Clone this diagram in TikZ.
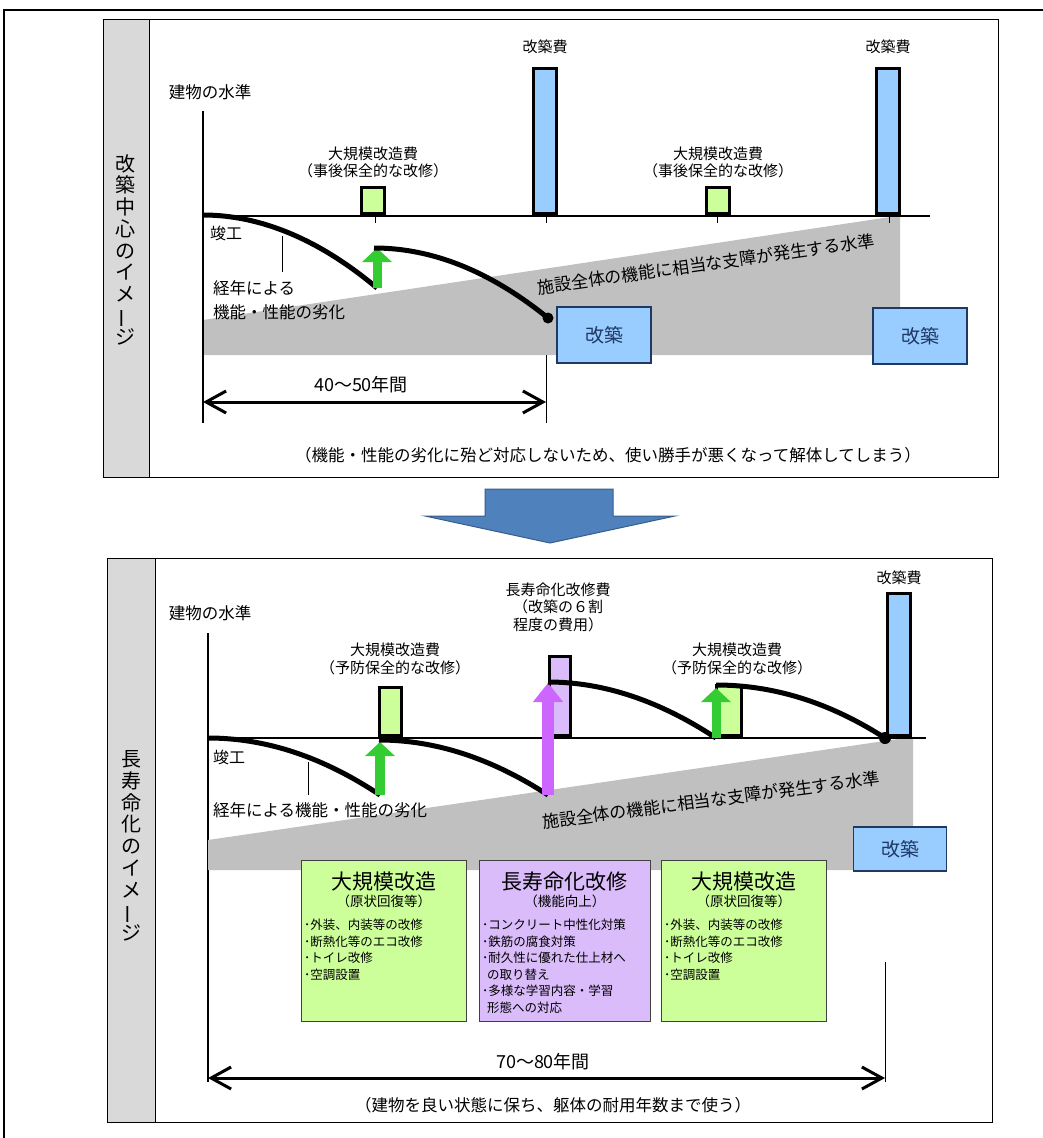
\documentclass[tikz,border=0pt]{standalone}
\usepackage{fontspec}
\setmainfont{Noto Sans CJK JP}
\usepackage{tikz}
\usetikzlibrary{arrows.meta, calc, positioning}
\definecolor{panelgray}{RGB}{217,217,217}
\definecolor{zonegray}{RGB}{192,192,192}
\definecolor{barblue}{RGB}{153,204,255}
\definecolor{fixgreen}{RGB}{204,255,153}
\definecolor{upgreen}{RGB}{51,204,51}
\definecolor{lifepurple}{RGB}{218,188,250}
\definecolor{uppurple}{RGB}{204,102,255}
\definecolor{bigblue}{RGB}{79,129,189}
\definecolor{bigedge}{RGB}{56,93,138}
\definecolor{navy}{RGB}{31,56,100}
\definecolor{darkline}{RGB}{64,64,64}
\newcommand{\sz}[2]{\fontsize{#1}{#2}\selectfont}
\tikzstyle{lbl} = [inner sep=0pt, align=center, font=\sz{15}{17.5}]
\tikzstyle{levelaxis} = [line width=1.5pt]
\tikzstyle{leader} = [line width=0.8pt]
\tikzstyle{decay} = [line width=5pt]
\tikzstyle{costbar} = [draw, line width=3pt, inner sep=0pt,
	minimum width=23pt, anchor=south]
\tikzstyle{lift} = [line width=9pt, -{Triangle[length=14pt, width=29pt]}]
\tikzstyle{rebuild} = [draw=navy, line width=1.2pt, fill=barblue, text=navy,
	minimum width=94pt, minimum height=56pt, font=\sz{19}{20}]
\tikzstyle{yearspan} = [line width=3pt,
	{Straight Barb[length=20pt, width=22pt]}-{Straight Barb[length=20pt, width=22pt]}]
\tikzstyle{sidetitle} = [inner sep=0pt, align=center, font=\sz{20}{21.7}]
\tikzstyle{work} = [draw=darkline, line width=0.9pt, minimum height=161pt,
	inner sep=0pt, anchor=north west]
\newcommand{\workbox}[7]{\node (#1) [work, fill=#2, minimum width=#4] at (#3,860) {};
	\node [inner sep=0pt, font=\sz{21}{22}] at ($(#1.north)+(0,22)$) {#5};
	\node [inner sep=0pt, font=\sz{13.5}{15}] at ($(#1.north)+(0,41)$) {#6};
	\node [inner sep=0pt, font=\sz{12.5}{16.5}, align=left, anchor=north west]
		at ($(#1.north west)+(3,59)$) {#7}}

\begin{document}
\begin{tikzpicture}[x=1pt, y=-1pt]
	\useasboundingbox (0,0) rectangle (1043,1138);
	\clip (0,0) rectangle (1043,1138);
	\draw[line width=2.5pt] (4,10) rectangle (1100,1200);
	
	% upper panel
	\draw[fill=panelgray, line width=1pt] (103,19) rectangle (149,477);
	\draw[line width=1pt] (103,19) rectangle (998,477);
	\node (sideA) [sidetitle] at (125,250) {改\\築\\中\\心\\の\\イ\\メ\\\rotatebox[origin=c]{90}{ー}\\ジ};
	\node (levelA) [lbl, font=\sz{16.5}{18}] at (210,92) {建物の水準};
	\fill[zonegray] (203,320) -- (890,217) -- (900,217) -- (900,355) -- (203,355) -- cycle;
	\node (zoneA) [lbl, font=\sz{17}{18}, rotate=8] at (706,264) {施設全体の機能に相当な支障が発生する水準};
	\draw[levelaxis] (203,111) -- (203,423);
	\draw[levelaxis] (203,216) -- (930,216);
	\foreach \x in {375,546,717,889}
		\draw[leader] (\x,211) -- (\x,223);
	\draw[leader] (546,355) -- (546,423);
	
	\node (costA1) [costbar, fill=barblue, minimum height=145pt] at (545,214.5) {};
	\node (costA2) [costbar, fill=barblue, minimum height=145pt] at (888,214.5) {};
	\node [lbl, above=13pt of costA1] {改築費};
	\node [lbl, above=13pt of costA2] {改築費};
	\node (fixA1) [costbar, fill=fixgreen, minimum height=26pt] at (373,214.5) {};
	\node (fixA2) [costbar, fill=fixgreen, minimum height=26pt] at (718,214.5) {};
	\node [lbl, above=7pt of fixA1] {大規模改造費\\（事後保全的な改修）};
	\node [lbl, above=7pt of fixA2] {大規模改造費\\（事後保全的な改修）};
	
	\draw[decay] (203,215) .. controls (261,215) and (320,240) .. (377,288) coordinate (dropA1);
	\coordinate (riseA1) at (377,248);
	\draw[lift, upgreen] (dropA1) -- (riseA1);
	\draw[decay] (374,248) .. controls (432,248) and (490,271) .. (548,318) coordinate (endA);
	\fill (endA) circle (5.5);
	
	\node (doneA) [lbl, font=\sz{16}{18}, anchor=west] at (210,233) {竣工};
	\draw[leader] (282,236) -- (282,272);
	\node (ageA) [lbl, font=\sz{16.5}{24}, align=left, anchor=west] at (213,300) {経年による\\機能・性能の劣化};
	\node (rebA1) [rebuild] at (604,335) {改築};
	\node (rebA2) [rebuild] at (920,336) {改築};
	
	\draw[yearspan] (203,402) -- (546,402);
	\node [lbl, font=\sz{18}{20}] at (361,385) {40〜50年間};
	\node [lbl, font=\sz{16.5}{18}] at (608,455) {（機能・性能の劣化に殆ど対応しないため、使い勝手が悪くなって解体してしまう）};
	
	% big arrow
	\draw[fill=bigblue, draw=bigedge, line width=1pt] (485,489) -- (613,489) -- (613,516) -- (675,516)
		-- (550,543) -- (425,516) -- (485,516) -- cycle;
	
	% lower panel
	\draw[fill=panelgray, line width=1pt] (107,558) rectangle (155,1122);
	\draw[line width=1pt] (107,558) rectangle (992,1122);
	\node (sideB) [sidetitle] at (131,846) {長\\寿\\命\\化\\の\\イ\\メ\\\rotatebox[origin=c]{90}{ー}\\ジ};
	\node (levelB) [lbl, font=\sz{16.5}{18}] at (210,613) {建物の水準};
	\draw[levelaxis] (208,633) -- (208,1082);
	\fill[zonegray] (208,840) -- (905,738) -- (913,738) -- (913,870) -- (208,870) -- cycle;
	\node (zoneB) [lbl, font=\sz{17}{18}, rotate=7.5] at (711,800) {施設全体の機能に相当な支障が発生する水準};
	\draw[levelaxis] (208,738) -- (926,738);
	
	\node (costB) [costbar, fill=barblue, minimum height=142pt] at (899,736.5) {};
	\node [lbl, above=7pt of costB] {改築費};
	\node (fixB1) [costbar, fill=fixgreen, minimum width=22pt, minimum height=48pt] at (390.5,736.5) {};
	\node (lifeB) [costbar, fill=lifepurple, minimum width=21pt, minimum height=79pt] at (560,736.5) {};
	\node (fixB2) [costbar, fill=fixgreen, minimum width=25pt, minimum height=50pt] at (729,736.5) {};
	\node [lbl] at (395,659) {大規模改造費\\（予防保全的な改修）};
	\node [lbl] at (558,607) {長寿命化改修費\\（改築の６割\\程度の費用）};
	\node [lbl] at (737,659) {大規模改造費\\（予防保全的な改修）};
	
	\draw[decay] (208,738) .. controls (266,738) and (323,757) .. (380,795) coordinate (dropB1);
	\draw[lift, upgreen, line width=10pt] (dropB1) -- (380,742);
	\draw[decay] (379,740) .. controls (435,740) and (491,758) .. (548,795) coordinate (dropB2);
	\draw[line width=12pt, uppurple, -{Triangle[length=19pt, width=29pt]}] (dropB2) -- (548,683);
	\draw[decay] (548,682) .. controls (604,682) and (660,701) .. (716,738) coordinate (dropB3);
	\draw[lift, upgreen] (dropB3) -- (716,688);
	\draw[decay] (716,685) .. controls (773,685) and (829,702) .. (885,738) coordinate (endB);
	\fill (endB) circle (6);
	
	\node (doneB) [lbl, font=\sz{16}{18}, anchor=west] at (213,757) {竣工};
	\draw[leader] (308,762) -- (308,795);
	\node (ageB) [lbl, font=\sz{16.5}{18}, anchor=west] at (213,810) {経年による機能・性能の劣化};
	\node (rebB) [rebuild, minimum width=93pt, minimum height=44pt] at (900,849) {改築};
	
	\workbox{fixC1}{fixgreen}{301}{165pt}{大規模改造}{（原状回復等）}{･外装、内装等の改修\\･断熱化等のエコ改修\\･トイレ改修\\･空調設置};
	\workbox{lifeC}{lifepurple}{479}{171pt}{長寿命化改修}{（機能向上）}{･コンクリート中性化対策\\･鉄筋の腐食対策\\･耐久性に優れた仕上材へ\\\hspace{0.4em}の取り替え\\･多様な学習内容・学習\\\hspace{0.4em}形態への対応};
	\workbox{fixC2}{fixgreen}{661}{165pt}{大規模改造}{（原状回復等）}{･外装、内装等の改修\\･断熱化等のエコ改修\\･トイレ改修\\･空調設置};
	
	\draw[leader] (885,962) -- (885,1082);
	\draw[yearspan] (208,1078) -- (885,1078);
	\node [lbl, font=\sz{18}{20}] at (543,1062) {70〜80年間};
	\node [lbl, font=\sz{16.5}{18}] at (553,1105) {（建物を良い状態に保ち、躯体の耐用年数まで使う）};
\end{tikzpicture}
\end{document}
